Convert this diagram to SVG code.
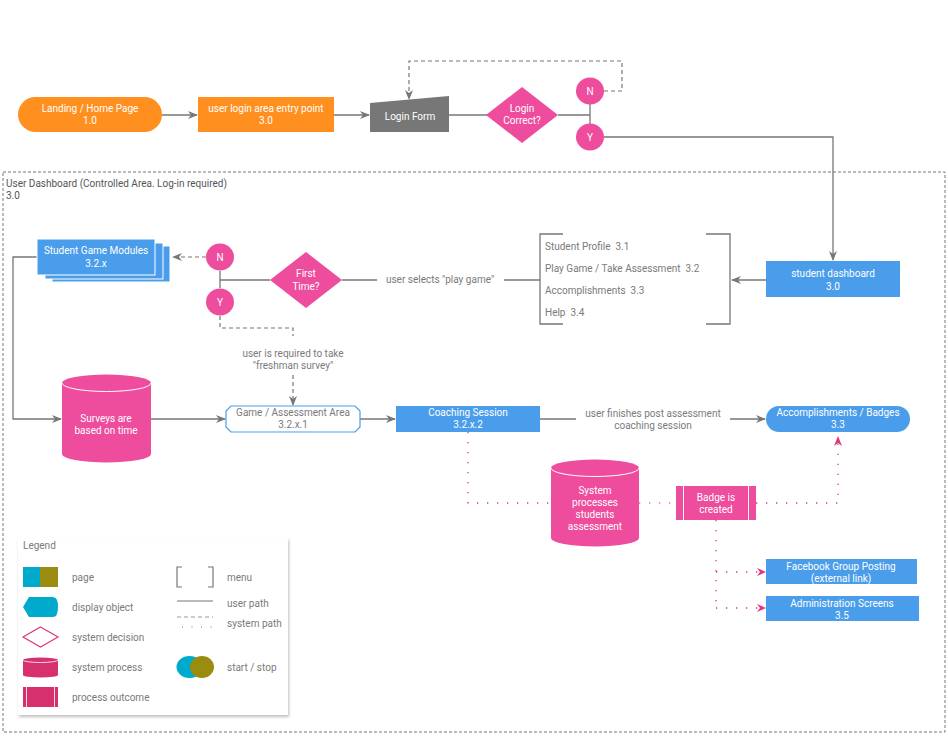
<svg xmlns="http://www.w3.org/2000/svg" width="948" height="740" viewBox="0 0 948 740">
<defs>
<marker id="ag" viewBox="0 0 10 8" refX="9" refY="4" markerWidth="10" markerHeight="8" markerUnits="userSpaceOnUse" orient="auto">
<path d="M0,0 L10,4 L0,8 L3,4 Z" fill="#777"/>
</marker>
<marker id="ap" viewBox="0 0 10 8" refX="9" refY="4" markerWidth="10" markerHeight="8" markerUnits="userSpaceOnUse" orient="auto">
<path d="M0,0 L10,4 L0,8 L3,4 Z" fill="#E0367F"/>
</marker>
<filter id="sh" x="-5%" y="-5%" width="110%" height="110%">
<feDropShadow dx="1" dy="2" stdDeviation="1.5" flood-color="#000" flood-opacity="0.25"/>
</filter>
</defs>
<style>
text{font-family:"Roboto","Liberation Sans",Arial,sans-serif;font-size:10px}
.w{fill:#fff;text-anchor:middle}
.g{fill:#7a7a7a;text-anchor:middle}
.gl{fill:#7a7a7a}
.pre{white-space:pre}
.dk{fill:#555}
.ln{fill:none;stroke:#777;stroke-width:1.3}
.dsh{fill:none;stroke:#777;stroke-width:1.2;stroke-dasharray:4 3}
.dot{fill:none;stroke:#E0367F;stroke-width:1.3;stroke-dasharray:1.3 8.7}
.org{fill:#FF8F1F}
.pink{fill:#EE4C9C}
.blue{fill:#4A9DEA}
</style>
<rect width="948" height="740" fill="#fff"/>

<g id="container">
<rect x="3" y="172" width="942" height="560" fill="none" stroke="#777" stroke-width="1" stroke-dasharray="3 2"/>
<text x="6" y="187" class="dk">User Dashboard (Controlled Area. Log-in required)</text>
<text x="6" y="199" class="dk">3.0</text>
</g>

<g id="connectors">
<path class="ln" d="M162,115 H197" marker-end="url(#ag)"/>
<path class="ln" d="M334,115 H369" marker-end="url(#ag)"/>
<path class="ln" d="M449,115 H487"/>
<path class="ln" d="M558,115 H590 M590,104 V124"/>
<path class="dsh" d="M604,91 H622 V61 H409 V99" marker-end="url(#ag)"/>
<path class="ln" d="M604,137 H833 V260" marker-end="url(#ag)"/>
<path class="ln" d="M766,280 H732" marker-end="url(#ag)"/>
<path class="ln" d="M540,280 H504 M377,280 H342"/>
<path class="ln" d="M270,280 H220 M220,271 V288"/>
<path class="dsh" d="M206,257 H173" marker-end="url(#ag)"/>
<path class="dsh" d="M220,316 V328 H293 V336 M293,375 V405" marker-end="url(#ag)"/>
<path class="ln" d="M37,257 H13 V419 H61" marker-end="url(#ag)"/>
<path class="ln" d="M151,419 H225" marker-end="url(#ag)"/>
<path class="ln" d="M360,419 H395" marker-end="url(#ag)"/>
<path class="ln" d="M540,419 H576 M730,419 H765" marker-end="url(#ag)"/>
<path class="dot" d="M468,432 V503 H551"/>
<path class="dot" d="M639,503 H676" stroke-dasharray="3 5" stroke-opacity="0.7"/>
<path class="dot" d="M756,503 H838 V437" marker-end="url(#ap)"/>
<path class="dot" d="M716,520 V609 M716,572 H765 M716,608 H765"/>
<path d="M757,568 L766,572 L757,576 L760,572 Z" fill="#E0367F"/>
<path d="M757,604 L766,608 L757,612 L760,608 Z" fill="#E0367F"/>
<text x="440" y="283" class="g">user selects "play game"</text>
<text x="293" y="357" class="g">user is required to take</text>
<text x="293" y="369" class="g">"freshman survey"</text>
<text x="653" y="417" class="g">user finishes post assessment</text>
<text x="653" y="429" class="g">coaching session</text>
</g>

<g id="landing">
<rect x="18" y="97" width="144" height="35" rx="17.5" class="org"/>
<text x="90" y="112" class="w">Landing / Home Page</text>
<text x="90" y="124" class="w">1.0</text>
</g>
<g id="login-entry">
<rect x="198" y="97" width="136" height="35" class="org"/>
<text x="266" y="112" class="w">user login area entry point</text>
<text x="266" y="124" class="w">3.0</text>
</g>
<g id="login-form">
<path d="M370,103 L449,96 V132 H370 Z" fill="#777"/>
<text x="410" y="120" class="w">Login Form</text>
</g>
<g id="login-correct">
<path d="M522,87 L558,115 L522,143 L486,115 Z" class="pink"/>
<text x="522" y="112" class="w">Login</text>
<text x="522" y="124" class="w">Correct?</text>
</g>
<g id="login-n">
<ellipse cx="590" cy="91" rx="14" ry="13.5" class="pink"/>
<text x="590" y="95" class="w">N</text>
</g>
<g id="login-y">
<ellipse cx="590" cy="137" rx="14" ry="13.5" class="pink"/>
<text x="590" y="141" class="w">Y</text>
</g>

<g id="student-dashboard">
<rect x="766" y="261" width="134" height="36" class="blue"/>
<text x="833" y="277" class="w">student dashboard</text>
<text x="833" y="290" class="w">3.0</text>
</g>

<g id="menu">
<path class="ln" d="M563,234 H540 V324 H563 M706,234 H730 V324 H706" stroke-width="1.2"/>
<text x="545" y="250" class="gl pre" xml:space="preserve">Student Profile  3.1</text>
<text x="545" y="272" class="gl pre" xml:space="preserve">Play Game / Take Assessment  3.2</text>
<text x="545" y="294" class="gl pre" xml:space="preserve">Accomplishments  3.3</text>
<text x="545" y="316" class="gl pre" xml:space="preserve">Help  3.4</text>
</g>

<g id="first-time">
<path d="M306,252 L342,280 L306,308 L270,280 Z" class="pink"/>
<text x="306" y="277" class="w">First</text>
<text x="306" y="290" class="w">Time?</text>
</g>
<g id="first-n">
<ellipse cx="220" cy="257" rx="14" ry="13.5" class="pink"/>
<text x="220" y="261" class="w">N</text>
</g>
<g id="first-y">
<ellipse cx="220" cy="302" rx="14" ry="13.5" class="pink"/>
<text x="220" y="306" class="w">Y</text>
</g>

<g id="game-modules">
<rect x="52" y="246" width="118" height="36" class="blue" stroke="#fff" stroke-width="1"/>
<rect x="45" y="243" width="118" height="36" class="blue" stroke="#fff" stroke-width="1"/>
<rect x="37" y="239" width="118" height="36" class="blue" stroke="#fff" stroke-width="1"/>
<text x="96" y="254" class="w">Student Game Modules</text>
<text x="96" y="267" class="w">3.2.x</text>
</g>

<g id="surveys">
<path d="M62,383 A44.5,8.5 0 0 1 151,383 V454 A44.5,8.5 0 0 1 62,454 Z" class="pink"/>
<path d="M62,383 A44.5,8.5 0 0 0 151,383" fill="none" stroke="#fff" stroke-width="1"/>
<text x="106" y="422" class="w">Surveys are</text>
<text x="106" y="434" class="w">based on time</text>
</g>

<g id="game-area">
<path d="M231,406 H355 L360,411 V427 L355,432 H231 L226,427 V411 Z" fill="#fff" stroke="#4A9DEA" stroke-width="1.2"/>
<text x="293" y="416" class="g">Game / Assessment Area</text>
<text x="293" y="428" class="g">3.2.x.1</text>
</g>

<g id="coaching">
<rect x="396" y="406" width="144" height="26" class="blue"/>
<text x="468" y="416" class="w">Coaching Session</text>
<text x="468" y="428" class="w">3.2.x.2</text>
</g>

<g id="accomplishments">
<rect x="766" y="406" width="144" height="26" rx="13" class="blue"/>
<text x="838" y="416" class="w">Accomplishments / Badges</text>
<text x="838" y="428" class="w">3.3</text>
</g>

<g id="system-processes">
<path d="M551,468 A44,8.5 0 0 1 639,468 V538 A44,8.5 0 0 1 551,538 Z" class="pink"/>
<path d="M551,468 A44,8.5 0 0 0 639,468" fill="none" stroke="#fff" stroke-width="1"/>
<text x="595" y="494" class="w">System</text>
<text x="595" y="506" class="w">processes</text>
<text x="595" y="518" class="w">students</text>
<text x="595" y="530" class="w">assessment</text>
</g>

<g id="badge">
<rect x="676" y="486" width="80" height="34" class="pink"/>
<path d="M683.5,486 V520 M748.5,486 V520" stroke="#fff" stroke-width="1"/>
<text x="716" y="501" class="w">Badge is</text>
<text x="716" y="513" class="w">created</text>
</g>

<g id="facebook">
<rect x="766" y="559" width="151" height="25" class="blue"/>
<text x="841" y="570" class="w">Facebook Group Posting</text>
<text x="841" y="582" class="w">(external link)</text>
</g>

<g id="admin">
<rect x="766" y="596" width="153" height="25" class="blue"/>
<text x="842" y="607" class="w">Administration Screens</text>
<text x="842" y="619" class="w">3.5</text>
</g>

<g id="legend">
<rect x="18" y="538" width="270" height="177" fill="#fff" filter="url(#sh)"/>
<text x="23" y="549" class="gl">Legend</text>
<rect x="23" y="567" width="17" height="20" fill="#00AACC"/>
<rect x="40" y="567" width="18" height="20" fill="#9A8C0E"/>
<text x="72" y="581" class="gl">page</text>
<path d="M29,597 H53 Q58,597 58,607 Q58,617 53,617 H29 L23,607 Z" fill="#00AACC"/>
<text x="72" y="611" class="gl">display object</text>
<path d="M40.5,627 L58,637 L40.5,647 L23,637 Z" fill="none" stroke="#E0367F" stroke-width="1.2"/>
<text x="72" y="641" class="gl">system decision</text>
<path d="M23,660 A17.5,2.5 0 0 1 58,660 V675 A17.5,2.5 0 0 1 23,675 Z" fill="#D6306F"/>
<path d="M23,660 A17.5,2.5 0 0 0 58,660" fill="none" stroke="#fff" stroke-width="0.8"/>
<text x="72" y="671" class="gl">system process</text>
<rect x="23" y="687" width="35" height="20" fill="#D6306F"/>
<path d="M26.5,687 V707 M54.5,687 V707" stroke="#fff" stroke-width="0.8"/>
<text x="72" y="701" class="gl">process outcome</text>
<path d="M182,567 H177 V587 H182 M208,567 H213 V587 H208" fill="none" stroke="#777" stroke-width="1.2"/>
<text x="227" y="581" class="gl">menu</text>
<path d="M177,601 H213" stroke="#777" stroke-width="1"/>
<text x="227" y="607" class="gl">user path</text>
<path d="M177,617 H213" stroke="#999" stroke-width="1" stroke-dasharray="4 3"/>
<path d="M182,627 H213" stroke="#E0367F" stroke-width="1" stroke-dasharray="1 8.5"/>
<text x="227" y="627" class="gl">system path</text>
<ellipse cx="189.5" cy="667" rx="13" ry="11" fill="#00AACC"/>
<ellipse cx="202" cy="667" rx="12" ry="11" fill="#9A8C0E"/>
<text x="227" y="671" class="gl">start / stop</text>
</g>
</svg>
